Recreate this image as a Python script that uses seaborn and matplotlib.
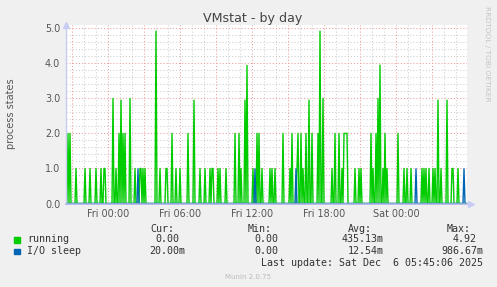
import numpy as np
import pandas as pd
import matplotlib
matplotlib.use("Agg")
import matplotlib.pyplot as plt
from matplotlib.patches import Rectangle
import seaborn as sns

# ---------------- data ----------------
start_hour = -3.5          # first sample: Thu 20:30 (hours relative to Fri 00:00)
step_minutes = 5
n_samples = 402

running_idx = [2, 4, 10, 19, 24, 30, 35, 38, 39, 47, 50, 53, 55, 57, 59, 64, 69, 74, 75, 77,
               79, 90, 94, 100, 101, 106, 110, 114, 122, 128, 134, 139, 144, 146, 147, 152,
               154, 160, 169, 173, 175, 179, 181, 187, 191, 193, 196, 204, 206, 209, 217,
               224, 226, 231, 232, 235, 237, 240, 243, 246, 252, 254, 257, 266, 269, 273,
               276, 278, 279, 280, 281, 289, 293, 295, 305, 307, 310, 312, 314, 317, 319,
               321, 332, 338, 341, 345, 356, 358, 360, 363, 367, 369, 372, 375, 381, 386,
               387, 392]
running_val = [2.0, 2.0, 1.0, 1.0, 1.0, 1.0, 1.0, 1.0, 1.0, 3.0, 1.0, 2.0, 2.95, 2.0, 2.0, 3.0,
               1.0, 1.0, 1.0, 1.0, 1.0, 4.92, 1.0, 1.0, 1.0, 2.0, 1.0, 1.0, 2.0, 2.95, 1.0,
               1.0, 1.0, 1.0, 1.0, 1.0, 1.0, 1.0, 2.0, 2.0, 1.0, 2.95, 3.94, 1.0, 2.0, 2.0,
               1.0, 1.0, 1.0, 1.0, 2.0, 1.0, 2.0, 1.0, 2.0, 2.0, 1.0, 2.0, 2.95, 2.0, 2.0,
               4.92, 3.0, 1.0, 2.0, 2.0, 1.0, 2.0, 2.0, 2.0, 2.0, 1.0, 1.0, 1.0, 2.0, 1.0,
               2.0, 3.0, 3.95, 1.0, 2.0, 1.0, 2.0, 1.0, 1.0, 1.0, 1.0, 1.0, 1.0, 1.0, 1.0,
               1.0, 2.95, 1.0, 2.95, 1.0, 1.0, 1.0]
io_idx = [72, 189, 230, 350, 398]
io_val = [0.99, 0.99, 0.99, 0.99, 0.99]

series_names = ["running", "I/O sleep"]
series_colors = ["#00CC00", "#0066B3"]

xtick_hours = [0, 6, 12, 18, 24]
xtick_labels = ["Fri 00:00", "Fri 06:00", "Fri 12:00", "Fri 18:00", "Sat 00:00"]
ytick_vals = [0, 1, 2, 3, 4, 5]
ytick_labels = ["0.0", "1.0", "2.0", "3.0", "4.0", "5.0"]

legend_cur = ["0.00", "20.00m"]
legend_min = ["0.00", "0.00"]
legend_avg = ["435.13m", "12.54m"]
legend_max = ["4.92", "986.67m"]
last_update = "Last update: Sat Dec  6 05:45:06 2025"

# ---------------- build series ----------------
hours = start_hour + np.arange(n_samples) * step_minutes / 60.0
running = np.zeros(n_samples)
running[running_idx] = running_val
io = np.zeros(n_samples)
io[io_idx] = io_val
df = pd.concat([
    pd.DataFrame({"hours": hours, "value": running, "series": series_names[0]}),
    pd.DataFrame({"hours": hours, "value": io, "series": series_names[1]}),
], ignore_index=True)

# ---------------- figure ----------------
W, H = 497, 287
BG = "#F0F0F0"
sns.set_style("white")
plt.rcParams["font.family"] = ["DejaVu Sans"]

fig = plt.figure(figsize=(W / 100, H / 100), dpi=100, facecolor=BG)
left, right, top, bottom = 66, 467, 25, 203.5
ax = fig.add_axes([left / W, 1 - bottom / H, (right - left) / W, (bottom - top) / H])
ax.set_facecolor("white")

sns.lineplot(data=df, x="hours", y="value", hue="series", hue_order=series_names,
             palette=dict(zip(series_names, series_colors)), legend=False,
             linewidth=1.0, estimator=None, ax=ax)

ymax = 5.0 + (28.3 - top) / 35.04
ax.set_ylim(0, ymax)
xmin = start_hour
xmax = (right - 108) / 12.0
ax.set_xlim(xmin, xmax)

# ticks & grid
ax.set_xticks(np.arange(-3, 30, 3))
ax.set_xticklabels([xtick_labels[xtick_hours.index(int(h))] if int(h) in xtick_hours else ""
                    for h in np.arange(-3, 30, 3)])
ax.set_xticks(np.arange(-3, 30, 1), minor=True)
ax.set_yticks(ytick_vals)
ax.set_yticklabels(ytick_labels)
ax.set_yticks(np.arange(0, 5.01, 0.2), minor=True)
ax.grid(which="minor", color="#CFCFCF", linestyle=(0, (1, 2)), linewidth=0.75)
ax.grid(which="major", color="#EE9C9C", linestyle=(0, (1, 2)), linewidth=0.75)
ax.set_axisbelow(True)

ax.tick_params(axis="both", which="both", labelsize=6.9, colors="#C8CCEE",
               labelcolor="#555555")
ax.tick_params(axis="x", which="major", length=2, pad=2.0)
ax.tick_params(axis="x", which="minor", length=1.5)
ax.tick_params(axis="y", which="both", length=0, pad=4.2)
ax.set_xlabel("")
ax.set_ylabel("")

for s in ["top", "right"]:
    ax.spines[s].set_visible(False)
ax.spines["left"].set_color("#C8CCF2")
ax.spines["bottom"].set_color("#A9B4E6")
ax.spines["left"].set_linewidth(1.0)
ax.spines["bottom"].set_linewidth(1.2)
# axis arrows
ax.plot([0], [1.0], marker="^", markersize=4, color="#C8CCF2", transform=ax.transAxes,
        clip_on=False, zorder=5)
ax.plot([1.0 + 4 / (right - left)], [0], marker=">", markersize=4, color="#C8CCF2",
        transform=ax.transAxes, clip_on=False, zorder=5)


def fx(x):
    return x / W


def fy(y):
    return 1 - y / H


# title, axis label, watermark
fig.text(fx(253), fy(22), "VMstat - by day", fontsize=9.1, color="#444444",
         ha="center", va="baseline")
fig.text(fx(11), fy(114), "process states", fontsize=7.0, color="#555555",
         rotation=90, ha="center", va="center")
fig.text(fx(487.5), fy(53.5), "RRDTOOL / TOBI OETIKER", fontsize=5.4, color="#C4C4C4",
         rotation=270, ha="center", va="center")

# legend
mono = dict(family="DejaVu Sans Mono", fontsize=7.2, color="#333333", va="baseline")
cw = 6.02
fig.text(fx(150), fy(232), "Cur:", **mono)
fig.text(fx(248), fy(232), "Min:", **mono)
fig.text(fx(348), fy(232), "Avg:", **mono)
fig.text(fx(447), fy(232), "Max:", **mono)

row_base = [242.3, 254.0]
sq_top = [237.0, 248.7]
col_end = [179.0, 278.5, 378.0, 477.0]
for r in range(2):
    fig.patches.append(Rectangle((fx(14), fy(sq_top[r] + 5.5)), 5.5 / W, 5.5 / H,
                                 transform=fig.transFigure, color=series_colors[r],
                                 figure=fig))
    fig.text(fx(27), fy(row_base[r]), series_names[r], **mono)
    for c, col in enumerate([legend_cur, legend_min, legend_avg, legend_max]):
        s = col[r]
        nnum = len(s.rstrip("m"))
        fig.text(fx(col_end[c] - nnum * cw), fy(row_base[r]), s, **mono)

fig.text(fx(261), fy(266.5), last_update, **mono)
fig.text(fx(248), fy(279), "Munin 2.0.75", fontsize=5.0, color="#BBBBBB",
         ha="center", va="baseline")

fig.savefig("out.png", dpi=100, facecolor=BG)
